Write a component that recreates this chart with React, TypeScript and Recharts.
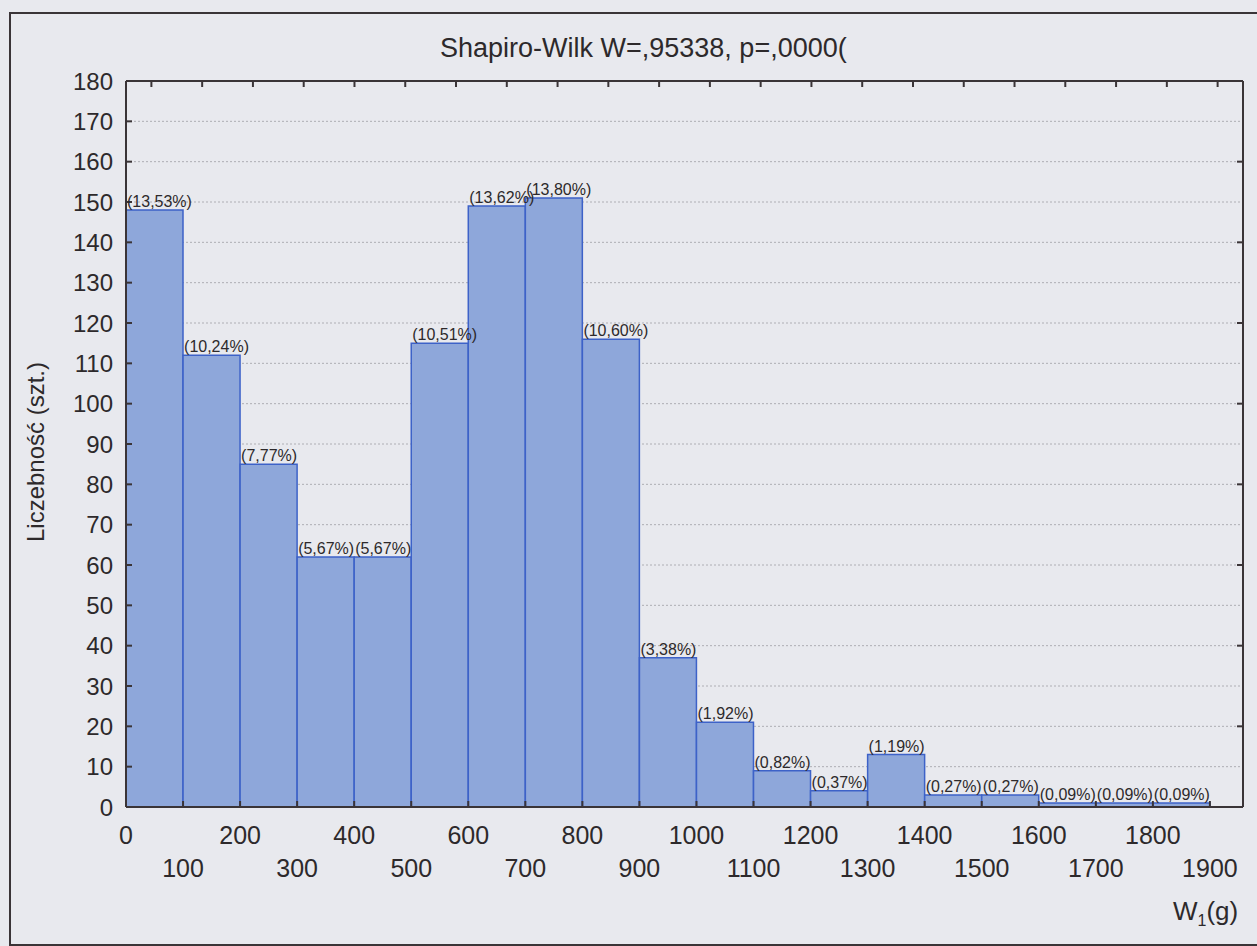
import React from 'react';
import { ComposedChart, Bar, Line, XAxis, YAxis, CartesianGrid, LabelList } from 'recharts';

// histogram bins (lower edge, g) and counts per bin
const binStarts = [0, 100, 200, 300, 400, 500, 600, 700, 800, 900, 1000, 1100, 1200, 1300, 1400, 1500, 1600, 1700, 1800];
const counts = [148, 112, 85, 62, 62, 115, 149, 151, 116, 37, 21, 9, 4, 13, 3, 3, 1, 1, 1];
const totalN = 1094;

const xTicks = [0, 100, 200, 300, 400, 500, 600, 700, 800, 900, 1000, 1100, 1200, 1300, 1400, 1500, 1600, 1700, 1800, 1900];
const yTicks = [0, 10, 20, 30, 40, 50, 60, 70, 80, 90, 100, 110, 120, 130, 140, 150, 160, 170, 180];
const yTicksRight = [20, 40, 60, 80, 100, 120, 140, 160, 180];
// minor marks along the top edge of the frame
const topTicks = [44.5, 133.5, 222.5, 311.5, 400.5, 489.5, 578.5, 667.5, 756.5, 845.5, 934.5, 1023.5, 1112.5, 1201.5, 1290.5, 1379.5, 1468.5, 1557.5, 1646.5, 1735.5, 1824.5, 1913.5];

const binWidth = 100;
const data = binStarts.map((start, i) => ({
  mid: start + binWidth / 2,
  count: counts[i],
  label: `(${((counts[i] / totalN) * 100).toFixed(2).replace('.', ',')}%)`,
}));

const FONT = "'Liberation Sans', Arial, sans-serif";
const INK = '#2d292b';
const FRAME = '#3a3437';
const PAPER = '#e8e9ee';

function XTick(props: any) {
  const { x, y, payload } = props;
  const lower = (payload.value / 100) % 2 === 1;
  return (
    <text x={x} y={y + (lower ? 67 : 34)} textAnchor="middle" dominantBaseline="central" fontSize={25} fill={INK} fontFamily={FONT}>
      {payload.value}
    </text>
  );
}

function PctLabel(props: any) {
  const { x, y, value } = props;
  return (
    <text x={x + 1} y={y - 3} fontSize={16} fill={INK} fontFamily={FONT}>
      {value}
    </text>
  );
}

const noTick = () => <g />;

export default function App() {
  return (
    <div style={{ position: 'absolute', left: 0, top: 0, width: 1257, height: 946, overflow: 'hidden', background: PAPER, fontFamily: FONT, color: INK }}>
      <div style={{ position: 'absolute', left: 9, top: 12, width: 1300, height: 930, border: `2px solid ${FRAME}`, borderRight: 'none' }} />
      <div style={{ position: 'absolute', left: 440, top: 35, whiteSpace: 'nowrap', fontSize: 27, lineHeight: '27px' }}>
        Shapiro-Wilk W=,95338, p=,0000(
      </div>
      <div style={{ position: 'absolute', left: 36, top: 452, transform: 'translate(-50%, -50%) rotate(-90deg)', whiteSpace: 'nowrap', fontSize: 24 }}>
        Liczebność (szt.)
      </div>
      <div style={{ position: 'absolute', left: 1173, top: 896, whiteSpace: 'nowrap', fontSize: 26 }}>
        W<span style={{ fontSize: 16, position: 'relative', top: 6 }}>1</span>(g)
      </div>
      <div style={{ position: 'absolute', left: 0, top: 0 }}>
        <ComposedChart
          width={1257}
          height={946}
          data={data}
          margin={{ top: 77, right: 10, bottom: 79, left: 60 }}
          barCategoryGap={0}
          barGap={0}
        >
          <CartesianGrid vertical={false} stroke="#aeaeb4" strokeDasharray="2 2" yAxisId="left" />
          <XAxis
            xAxisId="bottom"
            dataKey="mid"
            type="number"
            domain={[0, 1958]}
            ticks={xTicks}
            interval={0}
            allowDataOverflow
            height={60}
            tickSize={-6}
            tickMargin={0}
            tick={<XTick />}
            axisLine={{ stroke: FRAME, strokeWidth: 2 }}
            tickLine={{ stroke: FRAME, strokeWidth: 2 }}
          />
          <XAxis
            xAxisId="top"
            orientation="top"
            dataKey="mid"
            type="number"
            domain={[0, 1958]}
            ticks={topTicks}
            interval={0}
            allowDataOverflow
            height={4}
            tickSize={-6}
            tick={noTick}
            axisLine={{ stroke: FRAME, strokeWidth: 2 }}
            tickLine={{ stroke: FRAME, strokeWidth: 2 }}
          />
          <YAxis
            yAxisId="left"
            type="number"
            domain={[0, 180]}
            ticks={yTicks}
            interval={0}
            allowDataOverflow
            width={66}
            tickSize={-6}
            tickMargin={19}
            tick={{ fontSize: 24, fill: INK, fontFamily: FONT }}
            axisLine={{ stroke: FRAME, strokeWidth: 2 }}
            tickLine={{ stroke: FRAME, strokeWidth: 2 }}
          />
          <YAxis
            yAxisId="right"
            orientation="right"
            type="number"
            domain={[0, 180]}
            ticks={yTicksRight}
            interval={0}
            allowDataOverflow
            width={4}
            tickSize={-6}
            tick={noTick}
            axisLine={{ stroke: FRAME, strokeWidth: 2 }}
            tickLine={{ stroke: FRAME, strokeWidth: 2 }}
          />
          <Bar
            xAxisId="bottom"
            yAxisId="left"
            dataKey="count"
            fill="#8ea7da"
            stroke="#3d62c8"
            strokeWidth={1.5}
            isAnimationActive={false}
          >
            <LabelList dataKey="label" content={<PctLabel />} />
          </Bar>
          {/* invisible series so the top and right frame axes get drawn */}
          <Line
            xAxisId="top"
            yAxisId="right"
            dataKey="count"
            stroke="none"
            dot={false}
            activeDot={false}
            legendType="none"
            isAnimationActive={false}
          />
        </ComposedChart>
      </div>
    </div>
  );
}
